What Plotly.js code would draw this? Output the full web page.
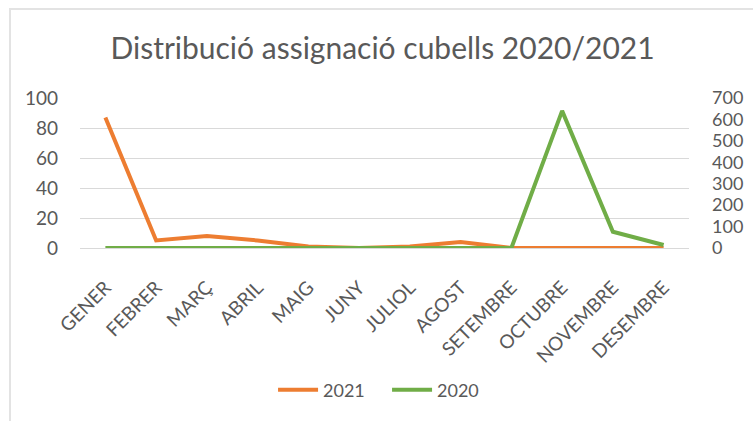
<!DOCTYPE html>
<html>
<head>
<meta charset="utf-8">
<script src="https://cdn.plot.ly/plotly-3.0.1.min.js"></script>
<style>
  html, body { margin: 0; padding: 0; background: #fff; }
  #wrap { position: relative; width: 753px; height: 421px; overflow: hidden; }
  #frame { position: absolute; left: 9px; top: 8px; right: -5px; bottom: -5px;
           border-top: 2px solid #e3e3e3; border-left: 2px solid #e3e3e3; pointer-events: none; }
  #chart { position: absolute; left: 0; top: 0; width: 753px; height: 421px; }
</style>
</head>
<body>
<div id="wrap">
  <div id="chart"></div>
  <div id="frame"></div>
</div>
<script>
const months = ["GENER","FEBRER","MARÇ","ABRIL","MAIG","JUNY","JULIOL","AGOST","SETEMBRE","OCTUBRE","NOVEMBRE","DESEMBRE"];
const values2021 = [87, 5, 8, 5, 1, 0, 1, 4, 0, 0, 0, 0];
const values2020 = [0, 0, 0, 0, 0, 0, 0, 0, 0, 640, 76, 14];
const leftTicks = [0, 20, 40, 60, 80, 100];
const rightTicks = [0, 100, 200, 300, 400, 500, 600, 700];

const fontFam = "Lato, 'Open Sans', sans-serif";
const grey = "#595959";

const traces = [
  { x: months, y: values2021, name: "2021", type: "scatter", mode: "lines",
    line: { color: "#ED7D31", width: 4 }, yaxis: "y" },
  { x: months, y: values2020, name: "2020", type: "scatter", mode: "lines",
    line: { color: "#70AD47", width: 4 }, yaxis: "y2" }
];

const layout = {
  width: 753, height: 421,
  margin: { l: 80, r: 64, t: 98, b: 173 },
  paper_bgcolor: "#ffffff", plot_bgcolor: "#ffffff",
  font: { family: fontFam, color: grey },
  title: { text: "Distribució assignació cubells 2020/2021",
           font: { family: fontFam, size: 30, color: grey },
           x: 0.508, xref: "container", xanchor: "center",
           y: 1 - 48/421, yref: "container", yanchor: "middle" },
  xaxis: { type: "category", range: [-0.5, 11.5], tickangle: -45,
           tickfont: { size: 19, color: grey }, showgrid: false,
           showline: true, linecolor: "#d9d9d9", linewidth: 1,
           ticks: "", ticklabelstandoff: 20, fixedrange: true },
  yaxis: { range: [0, 100], tickvals: leftTicks, showgrid: true, gridcolor: "#d9d9d9",
           gridwidth: 1, zeroline: false, tickfont: { size: 19, color: grey },
           ticks: "", ticklabelstandoff: 21, fixedrange: true },
  yaxis2: { range: [0, 700], tickvals: rightTicks, overlaying: "y", side: "right",
            showgrid: false, zeroline: false, tickfont: { size: 18, color: grey },
            ticks: "", ticklabelstandoff: 22, fixedrange: true },
  showlegend: true,
  legend: { orientation: "h", x: 0.317, xanchor: "left", y: -0.947, yanchor: "middle",
            font: { size: 18, color: grey }, traceorder: "normal", itemwidth: 40,
            entrywidth: 59, entrywidthmode: "pixels" }
};

Plotly.newPlot("chart", traces, layout, { displayModeBar: false, staticPlot: true });
</script>
</body>
</html>
